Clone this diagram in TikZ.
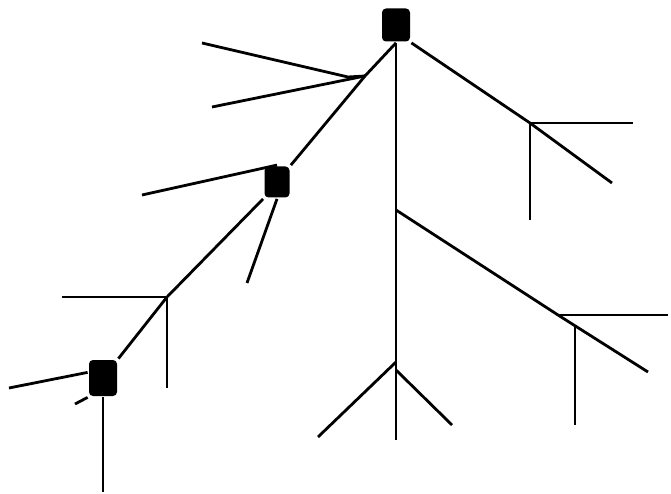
\documentclass[tikz,border=0pt]{standalone}
\begin{document}
\begin{tikzpicture}[x=1pt,y=-1pt,line width=2.8pt,
    knot/.style={fill=black,rounded corners=4pt,inner sep=0pt,minimum width=28pt,minimum height=33pt}]
  \useasboundingbox (0,0) rectangle (671,494);
  % the three knots
  \node[knot] (top) at (396,25) {};
  \node[knot,minimum width=25pt,minimum height=31pt] (mid) at (277,182) {};
  \node[knot,minimum height=36pt] (low) at (103,378) {};
  % junctions
  \coordinate (jl1) at (365,76);
  \coordinate (jl2) at (167,297);
  \coordinate (jr1) at (530,123);
  \coordinate (jr2) at (396,210);
  \coordinate (jr3) at (558,315);
  \coordinate (jb) at (396,362);
  % trunk and its fork
  \draw (top.south) -- (396,440);
  \draw (jb) -- (318,437);
  \draw (396,370) -- (452,425);
  % left limb
  \draw (top.south) -- (jl1) -- (mid.north east);
  \draw (202,43) -- (348,77) -- (jl1);
  \draw (212,107) -- (jl1);
  \draw (142,195) -- (mid.north);
  \draw (mid.south) -- (247,283);
  \draw (mid.south west) -- (jl2) -- (low.north east);
  \draw (62,297) -- (jl2) -- (167,388);
  \draw (9,388) -- (low.160);
  \draw (75,404) -- (low.south west);
  \draw (low.south) -- (103,492);
  % right limbs
  \draw (top.south east) -- (jr1) -- (612,183);
  \draw (jr1) -- (633,123);
  \draw (jr1) -- (530,220);
  \draw (jr2) -- (jr3) -- (648,372);
  \draw (jr3) -- (668,315);
  \draw (575,326) -- (575,425);
\end{tikzpicture}
\end{document}
